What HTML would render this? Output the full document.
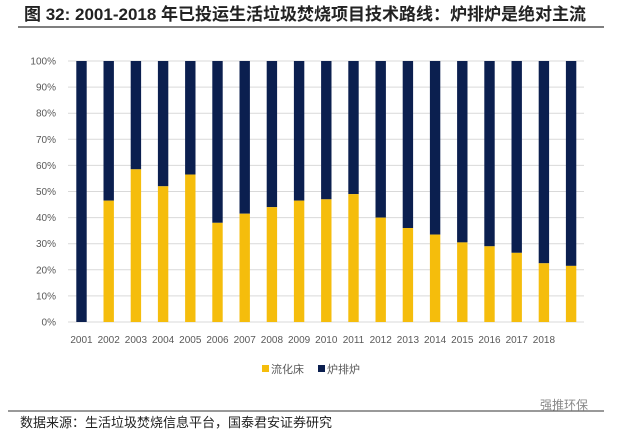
<!DOCTYPE html><html><head><meta charset="utf-8"><style>
body{margin:0;background:#fff;width:620px;height:436px;overflow:hidden;font-family:"Liberation Sans","Noto Sans CJK SC",sans-serif}
</style></head><body>
<svg width="620" height="436" xmlns="http://www.w3.org/2000/svg" font-family="Liberation Sans, Noto Sans CJK SC, sans-serif">
<text x="24" y="20" font-size="17" font-weight="bold" fill="#222">图 32: 2001-2018 年已投运生活垃圾焚烧项目技术路线：炉排炉是绝对主流</text>
<line x1="18" y1="27" x2="604" y2="27" stroke="#333" stroke-width="1.2"/>
<g id="grid" stroke="#d9d9d9" stroke-width="1"></g>
<g id="bars"></g>
<g id="lbl" font-size="10" fill="#595959"></g>
<rect x="262" y="365" width="7" height="7" fill="#f5bd0c"/>
<text x="271" y="373" font-size="11" fill="#595959">流化床</text>
<rect x="318" y="365" width="7" height="7" fill="#0b1f4f"/>
<text x="327" y="373" font-size="11" fill="#595959">炉排炉</text>
<line x1="8" y1="411" x2="604" y2="411" stroke="#333" stroke-width="1"/>
<text x="540" y="409" font-size="12" fill="#888">强推环保</text>
<text x="20" y="427" font-size="13" fill="#222">数据来源：生活垃圾焚烧信息平台，国泰君安证券研究</text>
</svg>
<script>
const v=[0,46.5,58.5,52,56.5,38,41.5,44,46.5,47,49,40,36,33.5,30.5,29,26.5,22.5,21.5];
const ns="http://www.w3.org/2000/svg";
const g=document.getElementById('grid'),b=document.getElementById('bars'),l=document.getElementById('lbl');
const y0=322,h=261;
function el(t,a,p,txt){const e=document.createElementNS(ns,t);for(k in a)e.setAttribute(k,a[k]);if(txt)e.textContent=txt;p.appendChild(e);}
for(let i=0;i<=10;i++){const y=y0-h*i/10;el('line',{x1:68,x2:584,y1:y,y2:y},g);el('text',{x:56,y:y+3.5,'text-anchor':'end'},l,i*10+'%');}
v.forEach((p,i)=>{const cx=81.5+i*27.2;const yh=h*p/100;
el('rect',{x:cx-5.2,y:y0-h,width:10.4,height:h-yh,fill:'#0b1f4f'},b);
el('rect',{x:cx-5.2,y:y0-yh,width:10.4,height:yh,fill:'#f5bd0c'},b);
if(i<18)el('text',{x:cx,y:343,'text-anchor':'middle'},l,2001+i);});
</script>
</body></html>
